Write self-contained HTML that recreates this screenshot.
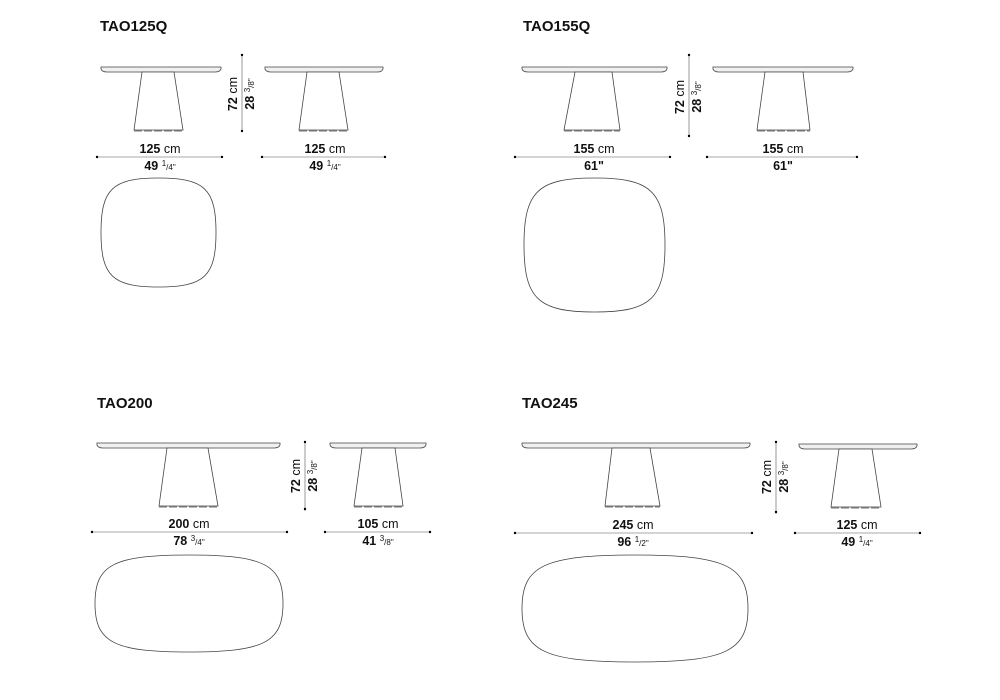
<!DOCTYPE html>
<html><head><meta charset="utf-8"><style>
html,body{margin:0;padding:0;background:#fff;}
svg{display:block;font-family:"Liberation Sans",Arial,sans-serif;}
.top{fill:#f0f0f0;stroke:#444;stroke-width:0.8;}
.base{fill:#fff;stroke:#444;stroke-width:0.8;}
.dim{stroke:#555;stroke-width:0.6;}
.plan{fill:none;stroke:#444;stroke-width:0.8;}
.t{font-size:12.5px;fill:#111;text-anchor:middle;}
.b{font-weight:bold;}
.h{font-size:15px;font-weight:bold;fill:#111;}
.pl{stroke:#777;stroke-width:1;stroke-dasharray:8,2;}
</style></head><body>
<svg width="1000" height="700" viewBox="0 0 1000 700">
<text class="h" x="100" y="31">TAO125Q</text>
<text class="h" x="523" y="31">TAO155Q</text>
<text class="h" x="97" y="408">TAO200</text>
<text class="h" x="522" y="408">TAO245</text>

<path class="top" d="M101,67 L221,67 L221,69 Q220,72 215,72 L107,72 Q102,72 101,69Z"/>
<polygon class="base" points="142,72 174,72 183,130 134,130"/>
<line class="pl" x1="134" y1="131" x2="183" y2="131"/>
<line class="dim" x1="97" y1="157" x2="222" y2="157"/>
<circle cx="97" cy="157" r="1.2"/><circle cx="222" cy="157" r="1.2"/>
<text class="t" x="160" y="153"><tspan class="b">125</tspan> cm</text>
<text class="t b" x="160" y="170">49 <tspan font-size="8" font-weight="normal" dy="-4">1</tspan><tspan font-size="8" font-weight="normal" dy="4">/4"</tspan></text>
<line class="dim" x1="242" y1="54" x2="242" y2="132"/>
<circle cx="242" cy="55" r="1.2"/><circle cx="242" cy="131" r="1.2"/>
<text class="t" transform="translate(237,94) rotate(-90)"><tspan class="b">72</tspan> cm</text>
<text class="t b" transform="translate(254,94) rotate(-90)">28 <tspan font-size="8" font-weight="normal" dy="-4">3</tspan><tspan font-size="8" font-weight="normal" dy="4">/8"</tspan></text>
<path class="top" d="M265,67 L383,67 L383,69 Q382,72 377,72 L271,72 Q266,72 265,69Z"/>
<polygon class="base" points="307,72 339,72 348,130 299,130"/>
<line class="pl" x1="299" y1="131" x2="348" y2="131"/>
<line class="dim" x1="262" y1="157" x2="385" y2="157"/>
<circle cx="262" cy="157" r="1.2"/><circle cx="385" cy="157" r="1.2"/>
<text class="t" x="325" y="153"><tspan class="b">125</tspan> cm</text>
<text class="t b" x="325" y="170">49 <tspan font-size="8" font-weight="normal" dy="-4">1</tspan><tspan font-size="8" font-weight="normal" dy="4">/4"</tspan></text>
<path class="plan" d="M158.5,178 C204.5,178 216,188.9 216,232.5 C216,276.1 204.5,287 158.5,287 C112.5,287 101,276.1 101,232.5 C101,188.9 112.5,178 158.5,178Z"/>

<path class="top" d="M522,67 L667,67 L667,69 Q666,72 661,72 L528,72 Q523,72 522,69Z"/>
<polygon class="base" points="575,72 612,72 620,130 564,130"/>
<line class="pl" x1="564" y1="131" x2="620" y2="131"/>
<line class="dim" x1="515" y1="157" x2="670" y2="157"/>
<circle cx="515" cy="157" r="1.2"/><circle cx="670" cy="157" r="1.2"/>
<text class="t" x="594" y="153"><tspan class="b">155</tspan> cm</text>
<text class="t b" x="594" y="170">61"</text>
<line class="dim" x1="689" y1="54" x2="689" y2="137"/>
<circle cx="689" cy="55" r="1.2"/><circle cx="689" cy="136" r="1.2"/>
<text class="t" transform="translate(684,97) rotate(-90)"><tspan class="b">72</tspan> cm</text>
<text class="t b" transform="translate(701,97) rotate(-90)">28 <tspan font-size="8" font-weight="normal" dy="-4">3</tspan><tspan font-size="8" font-weight="normal" dy="4">/8"</tspan></text>
<path class="top" d="M713,67 L853,67 L853,69 Q852,72 847,72 L719,72 Q714,72 713,69Z"/>
<polygon class="base" points="765,72 803,72 810,130 757,130"/>
<line class="pl" x1="757" y1="131" x2="810" y2="131"/>
<line class="dim" x1="707" y1="157" x2="857" y2="157"/>
<circle cx="707" cy="157" r="1.2"/><circle cx="857" cy="157" r="1.2"/>
<text class="t" x="783" y="153"><tspan class="b">155</tspan> cm</text>
<text class="t b" x="783" y="170">61"</text>
<path class="plan" d="M594.5,178 C650.9,178 665,191.4 665,245 C665,298.6 650.9,312 594.5,312 C538.1,312 524,298.6 524,245 C524,191.4 538.1,178 594.5,178Z"/>

<path class="top" d="M97,443 L280,443 L280,445 Q279,448 274,448 L103,448 Q98,448 97,445Z"/>
<polygon class="base" points="167,448 208,448 218,506 159,506"/>
<line class="pl" x1="159" y1="507" x2="218" y2="507"/>
<line class="dim" x1="92" y1="532" x2="287" y2="532"/>
<circle cx="92" cy="532" r="1.2"/><circle cx="287" cy="532" r="1.2"/>
<text class="t" x="189" y="528"><tspan class="b">200</tspan> cm</text>
<text class="t b" x="189" y="545">78 <tspan font-size="8" font-weight="normal" dy="-4">3</tspan><tspan font-size="8" font-weight="normal" dy="4">/4"</tspan></text>
<line class="dim" x1="305" y1="441" x2="305" y2="511"/>
<circle cx="305" cy="442" r="1.2"/><circle cx="305" cy="509" r="1.2"/>
<text class="t" transform="translate(300,476) rotate(-90)"><tspan class="b">72</tspan> cm</text>
<text class="t b" transform="translate(317,476) rotate(-90)">28 <tspan font-size="8" font-weight="normal" dy="-4">3</tspan><tspan font-size="8" font-weight="normal" dy="4">/8"</tspan></text>
<path class="top" d="M330,443 L426,443 L426,445 Q425,448 420,448 L336,448 Q331,448 330,445Z"/>
<polygon class="base" points="362,448 395,448 403,506 354,506"/>
<line class="pl" x1="354" y1="507" x2="403" y2="507"/>
<line class="dim" x1="325" y1="532" x2="430" y2="532"/>
<circle cx="325" cy="532" r="1.2"/><circle cx="430" cy="532" r="1.2"/>
<text class="t" x="378" y="528"><tspan class="b">105</tspan> cm</text>
<text class="t b" x="378" y="545">41 <tspan font-size="8" font-weight="normal" dy="-4">3</tspan><tspan font-size="8" font-weight="normal" dy="4">/8"</tspan></text>
<path class="plan" d="M189,555 C264.2,555 283,564.7 283,603.5 C283,642.3 264.2,652 189,652 C113.8,652 95,642.3 95,603.5 C95,564.7 113.8,555 189,555Z"/>

<path class="top" d="M522,443 L750,443 L750,445 Q749,448 744,448 L528,448 Q523,448 522,445Z"/>
<polygon class="base" points="612,448 650,448 660,506 605,506"/>
<line class="pl" x1="605" y1="507" x2="660" y2="507"/>
<line class="dim" x1="515" y1="533" x2="752" y2="533"/>
<circle cx="515" cy="533" r="1.2"/><circle cx="752" cy="533" r="1.2"/>
<text class="t" x="633" y="529"><tspan class="b">245</tspan> cm</text>
<text class="t b" x="633" y="546">96 <tspan font-size="8" font-weight="normal" dy="-4">1</tspan><tspan font-size="8" font-weight="normal" dy="4">/2"</tspan></text>
<line class="dim" x1="776" y1="441" x2="776" y2="514"/>
<circle cx="776" cy="442" r="1.2"/><circle cx="776" cy="512" r="1.2"/>
<text class="t" transform="translate(771,477) rotate(-90)"><tspan class="b">72</tspan> cm</text>
<text class="t b" transform="translate(788,477) rotate(-90)">28 <tspan font-size="8" font-weight="normal" dy="-4">3</tspan><tspan font-size="8" font-weight="normal" dy="4">/8"</tspan></text>
<path class="top" d="M799,444 L917,444 L917,446 Q916,449 911,449 L805,449 Q800,449 799,446Z"/>
<polygon class="base" points="839,449 872,449 881,507 831,507"/>
<line class="pl" x1="831" y1="508" x2="881" y2="508"/>
<line class="dim" x1="795" y1="533" x2="920" y2="533"/>
<circle cx="795" cy="533" r="1.2"/><circle cx="920" cy="533" r="1.2"/>
<text class="t" x="857" y="529"><tspan class="b">125</tspan> cm</text>
<text class="t b" x="857" y="546">49 <tspan font-size="8" font-weight="normal" dy="-4">1</tspan><tspan font-size="8" font-weight="normal" dy="4">/4"</tspan></text>
<path class="plan" d="M635,555 C725.4,555 748,565.7 748,608.5 C748,651.3 725.4,662 635,662 C544.6,662 522,651.3 522,608.5 C522,565.7 544.6,555 635,555Z"/>
</svg>
</body></html>
